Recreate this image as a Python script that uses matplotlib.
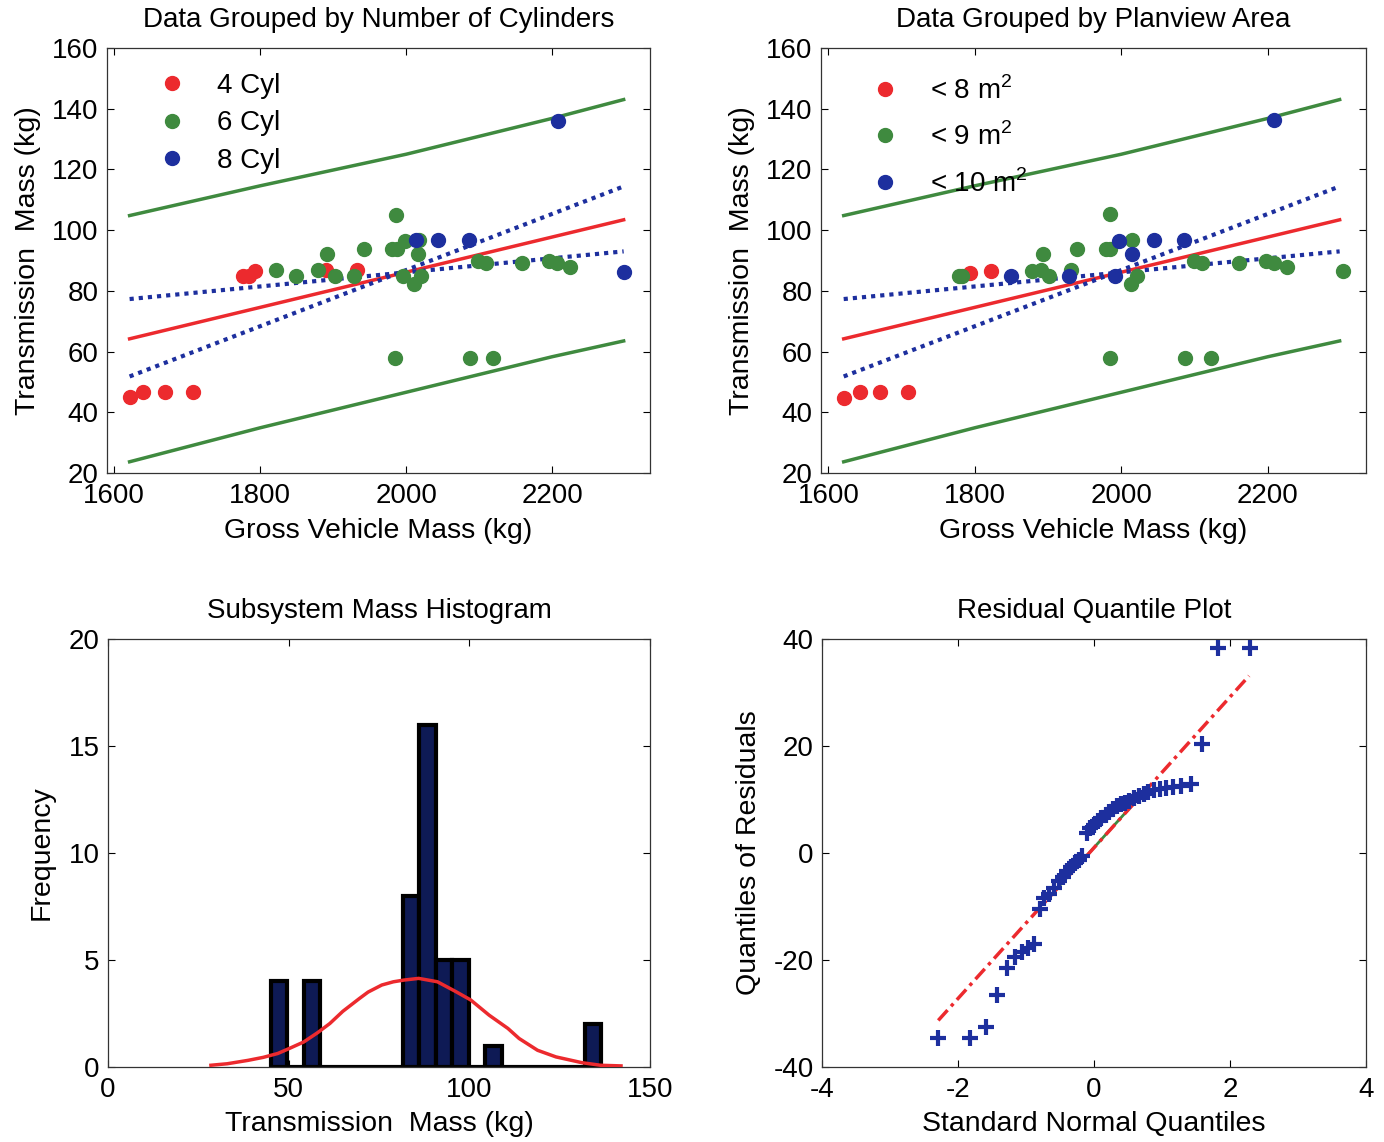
import numpy as np
import matplotlib
matplotlib.use("Agg")
import matplotlib.pyplot as plt

plt.rcParams['font.family'] = ['Liberation Sans', 'DejaVu Sans']
plt.rcParams['mathtext.fontset'] = 'custom'
plt.rcParams['mathtext.rm'] = 'Liberation Sans'
plt.rcParams['axes.unicode_minus'] = False

RED = '#ec2a2e'
GREEN = '#3f8a3f'
BLUE = '#1d2f9e'
NAVY = '#0e1a55'

# ---- scatter data: grouped by cylinders ----
cyl4_x = [1622, 1639, 1669, 1708, 1777, 1784, 1793, 1890, 1932]
cyl4_y = [45.0, 46.8, 46.8, 46.8, 84.9, 84.9, 86.4, 86.9, 86.9]
cyl6_x = [1822, 1849, 1879, 1892, 1902, 1929, 1942, 1986, 1981, 1987, 1999, 1995,
          2016, 2017, 2020, 2011, 2099, 2110, 2159, 2196, 2207, 2224, 1984, 2088, 2119]
cyl6_y = [86.9, 84.9, 86.9, 92.1, 84.9, 84.9, 93.9, 105.1, 93.9, 93.9, 96.4, 84.9,
          92.1, 96.8, 84.9, 82.2, 89.9, 89.1, 89.1, 89.9, 89.1, 88.0, 58.0, 58.0, 58.0]
cyl8_x = [2014, 2043, 2086, 2208, 2299]
cyl8_y = [96.8, 96.8, 96.8, 136.0, 86.2]

# ---- scatter data: grouped by planview area ----
area8_x = [1622, 1643, 1670, 1709, 1793, 1822]
area8_y = [44.7, 46.6, 46.6, 46.6, 85.9, 86.7]
area9_x = [1778, 1783, 1878, 1891, 1893, 1901, 1931, 1940, 1985, 1979, 1985, 2014,
           2022, 2013, 2099, 2110, 2161, 2197, 2208, 2226, 2303, 1985, 2087, 2122]
area9_y = [84.9, 84.9, 86.7, 86.9, 92.1, 84.9, 86.9, 93.7, 105.2, 93.7, 93.7, 96.8,
           84.9, 82.1, 89.7, 89.1, 89.1, 89.7, 89.1, 88.0, 86.4, 57.9, 57.9, 57.9]
area10_x = [1849, 1928, 1997, 2014, 1992, 2045, 2086, 2209]
area10_y = [84.9, 84.9, 96.3, 92.2, 84.9, 96.8, 96.8, 136.4]

# ---- fitted lines (same in both top panels) ----
fit_x = [1621, 2298]
fit_y = [64.2, 103.4]
band_x = [1621, 1800, 2000, 2200, 2298]
band_hi = [104.8, 114.6, 125.0, 136.8, 143.0]
band_lo = [23.7, 34.9, 46.6, 58.3, 63.5]
conf_x = [1621, 2298]
conf_a = [77.3, 93.0]
conf_b = [51.8, 114.4]

# ---- histogram ----
hist_range = (45.0, 136.5)
hist_counts = [4, 0, 4, 0, 0, 0, 0, 0, 8, 16, 5, 5, 0, 1, 0, 0, 0, 0, 0, 2]
curve_x = [28.5, 33, 38.8, 43, 47.0, 50, 54.2, 58, 61.4, 65, 69.6, 72, 75.8, 79,
           81.9, 86.0, 91.2, 96.3, 100.4, 105.5, 110.7, 113.8, 118.9, 124.0, 131.2, 136.3, 142.0]
curve_y = [0.08, 0.15, 0.31, 0.45, 0.63, 0.85, 1.17, 1.6, 2.03, 2.6, 3.2, 3.5, 3.83, 3.98,
           4.06, 4.14, 3.98, 3.52, 3.13, 2.42, 1.8, 1.33, 0.78, 0.47, 0.2, 0.08, 0.05]

# ---- residual quantiles ----
qq_x = [-2.29, -1.83, -1.59, -1.42, -1.28, -1.16, -1.06, -0.97, -0.88, -0.80, -0.73,
        -0.66, -0.59, -0.52, -0.46, -0.40, -0.34, -0.28, -0.22, -0.17, -0.11, -0.06,
        0.00, 0.06, 0.11, 0.17, 0.22, 0.28, 0.34, 0.40, 0.46, 0.52, 0.59, 0.66, 0.73,
        0.80, 0.88, 0.97, 1.06, 1.16, 1.28, 1.42, 1.59, 1.83, 2.29]
qq_y = [-34.6, -34.6, -32.6, -26.6, -21.5, -19.4, -18.6, -17.8, -17.0, -10.5, -8.5,
        -7.6, -6.5, -5.3, -4.5, -3.4, -2.6, -1.9, -1.3, -0.5, 3.7, 4.6,
        5.2, 5.9, 6.5, 7.1, 7.7, 8.2, 8.7, 9.1, 9.4, 9.8, 10.2, 10.6, 11.0,
        11.4, 11.7, 11.9, 12.1, 12.3, 12.5, 12.8, 20.3, 38.4, 38.4]
qq_line_x = [-2.29, 2.28]
qq_line_y = [-31.3, 33.1]
qq_iqr_x = [-0.674, 0.674]
qq_iqr_y = [-8.5, 10.5]

FS = 20
LFS = 20.5
TFS = 20


def style(ax):
    ax.tick_params(direction='in', top=True, right=True, length=5, width=0.8,
                   labelsize=FS, colors='black')
    ax.tick_params(axis='x', pad=7)
    ax.tick_params(axis='y', pad=6)
    for s in ax.spines.values():
        s.set_linewidth(0.9)
        s.set_color('#333333')


def scatter_panel(ax, groups, title):
    for x, y, c, lab in groups:
        ax.plot(x, y, 'o', color=c, markersize=10, label=lab, zorder=3)
    ax.plot(band_x, band_hi, color=GREEN, lw=2.5, zorder=2)
    ax.plot(band_x, band_lo, color=GREEN, lw=2.5, zorder=2)
    ax.plot(fit_x, fit_y, color=RED, lw=2.5, zorder=2)
    ax.plot(conf_x, conf_a, color=BLUE, lw=3, ls=(0, (1, 1.2)), zorder=2)
    ax.plot(conf_x, conf_b, color=BLUE, lw=3, ls=(0, (1, 1.2)), zorder=2)
    ax.set_xlim(1590, 2334)
    ax.set_ylim(20, 160)
    ax.set_xticks([1600, 1800, 2000, 2200])
    ax.set_yticks(range(20, 161, 20))
    ax.set_xlabel('Gross Vehicle Mass (kg)', fontsize=LFS, labelpad=7)
    ax.set_ylabel('Transmission  Mass (kg)', fontsize=LFS, labelpad=8)
    ax.set_title(title, fontsize=TFS, pad=15)
    style(ax)


fig = plt.figure(figsize=(13.84, 11.42), dpi=100)
ax1 = fig.add_axes([0.0773, 0.5858, 0.3923, 0.3722])
ax2 = fig.add_axes([0.5932, 0.5858, 0.3938, 0.3722])
ax3 = fig.add_axes([0.0780, 0.0657, 0.3916, 0.3748])
ax4 = fig.add_axes([0.5939, 0.0657, 0.3931, 0.3748])

scatter_panel(ax1, [(cyl4_x, cyl4_y, RED, '4 Cyl'),
                    (cyl6_x, cyl6_y, GREEN, '6 Cyl'),
                    (cyl8_x, cyl8_y, BLUE, '8 Cyl')],
              'Data Grouped by Number of Cylinders')
ax1.legend(loc='upper left', bbox_to_anchor=(0.074, 0.968), frameon=False,
           fontsize=FS, handlelength=1.0, handletextpad=1.1, labelspacing=0.42,
           borderaxespad=0)

scatter_panel(ax2, [(area8_x, area8_y, RED, '< 8 m$^2$'),
                    (area9_x, area9_y, GREEN, '< 9 m$^2$'),
                    (area10_x, area10_y, BLUE, '< 10 m$^2$')],
              'Data Grouped by Planview Area')
ax2.legend(loc='upper left', bbox_to_anchor=(0.072, 0.96), frameon=False,
           fontsize=FS, handlelength=1.0, handletextpad=1.1, labelspacing=0.65,
           borderaxespad=0)

# histogram
edges = np.linspace(hist_range[0], hist_range[1], len(hist_counts) + 1)
centers = (edges[:-1] + edges[1:]) / 2
ax3.bar(centers, hist_counts, width=edges[1] - edges[0], color=NAVY,
        edgecolor='black', linewidth=3, zorder=2)
ax3.plot(curve_x, curve_y, color=RED, lw=2.5, zorder=3)
ax3.set_xlim(0, 150)
ax3.set_ylim(0, 20)
ax3.set_xticks([0, 50, 100, 150])
ax3.set_yticks([0, 5, 10, 15, 20])
ax3.set_xlabel('Transmission  Mass (kg)', fontsize=LFS, labelpad=6)
ax3.set_ylabel('Frequency', fontsize=LFS, labelpad=10)
ax3.set_title('Subsystem Mass Histogram', fontsize=TFS, pad=15)
style(ax3)

# quantile plot
ax4.plot(qq_iqr_x, qq_iqr_y, color=GREEN, lw=2, zorder=2)
ax4.plot(qq_line_x, qq_line_y, color=RED, lw=2.5, ls=(0, (4, 1.5, 1, 1.5)), zorder=3)
ax4.plot(qq_x, qq_y, '+', color=BLUE, markersize=12, mew=3, zorder=4)
ax4.set_xlim(-4, 4)
ax4.set_ylim(-40, 40)
ax4.set_xticks([-4, -2, 0, 2, 4])
ax4.set_yticks([-40, -20, 0, 20, 40])
ax4.set_xlabel('Standard Normal Quantiles', fontsize=LFS, labelpad=6)
ax4.set_ylabel('Quantiles of Residuals', fontsize=LFS, labelpad=8)
ax4.set_title('Residual Quantile Plot', fontsize=TFS, pad=15)
style(ax4)

fig.savefig('out.png', dpi=100)
